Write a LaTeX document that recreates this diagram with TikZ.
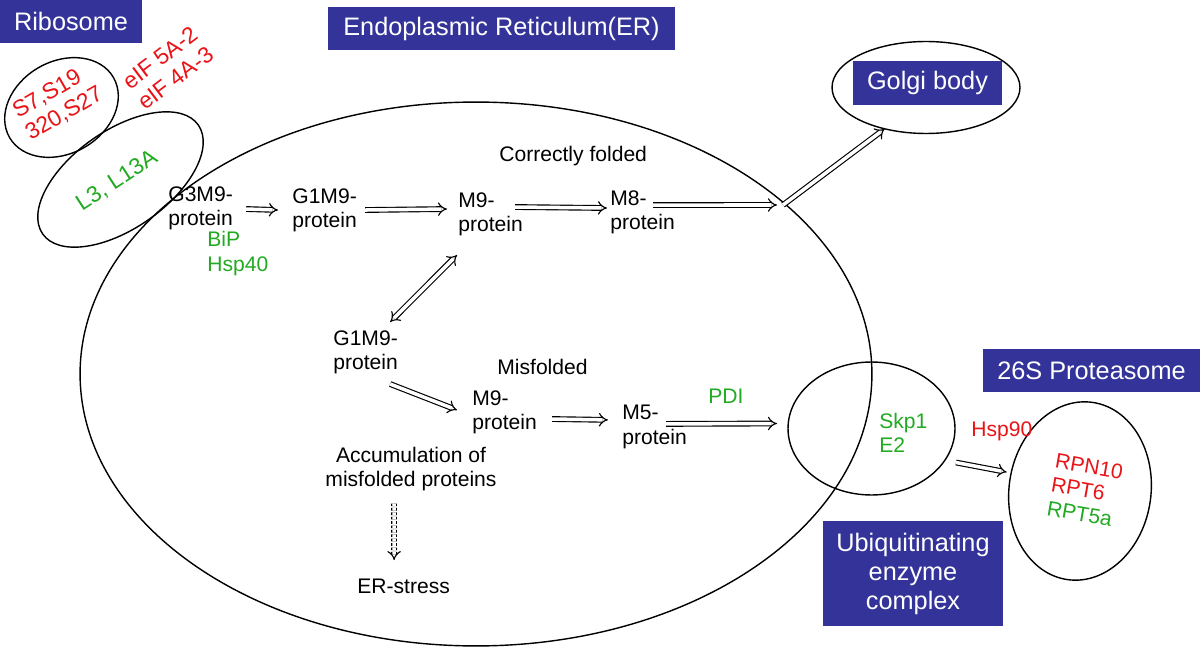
\documentclass[tikz,border=0pt]{standalone}
\usepackage{fontspec}
\setmainfont{Liberation Sans}
\usepackage{xcolor}
\usetikzlibrary{arrows.meta,shapes.geometric}
\definecolor{erblue}{RGB}{51,51,153}
\definecolor{protred}{RGB}{232,20,24}
\definecolor{protgreen}{RGB}{34,170,34}
\tikzset{
  lbl/.style={font=\fontsize{12}{13.8}\selectfont, inner sep=0pt, align=left},
  rlbl/.style={font=\fontsize{13}{14.5}\selectfont, inner sep=0pt, align=left},
  box/.style={fill=erblue, text=white, font=\fontsize{14.4}{16.5}\selectfont, inner sep=0pt, align=center},
  cell/.style={ellipse, draw, line width=0.8pt, inner sep=0pt, outer sep=0pt},
  flow/.style={double, double distance=2pt, line width=0.65pt, -{Implies}},
}

\begin{document}
\begin{tikzpicture}[x=0.02cm, y=-0.02cm]
                \fill[white] (0,0) rectangle (1200,648);
                \useasboundingbox (0,0) rectangle (1200,648);
                \node[cell, minimum width=15.84cm, minimum height=10.88cm] (er) at (476,374) {};
                \node[cell, rotate=30, minimum width=2.4cm, minimum height=1.84cm] (rsmall) at (61.5,107.5) {};
                \node[cell, rotate=35, minimum width=3.8cm, minimum height=1.96cm] (rlarge) at (120.5,179.5) {};
                \node[cell, minimum width=3.76cm, minimum height=1.84cm] (golgi) at (926,87.5) {};
                \node[cell, minimum width=3.34cm, minimum height=2.66cm] (ubiq) at (871.5,428.5) {};
                \node[cell, rotate=-8, minimum width=2.84cm, minimum height=3.58cm] (prot) at (1080,491) {};
                \node[box, minimum width=2.84cm, minimum height=0.86cm] (ribolabel) at (71,21.5) {Ribosome};
                \node[box, minimum width=6.94cm, minimum height=0.86cm] (erlabel) at (501.5,29) {Endoplasmic Reticulum(ER)};
                \node[box, minimum width=2.98cm, minimum height=0.88cm] (golgilabel) at (927.5,83) {Golgi body};
                \node[box, minimum width=4.34cm, minimum height=0.86cm] (protlabel) at (1091.5,370.5) {26S Proteasome};
                \node[box, minimum width=3.6cm, minimum height=2.1cm] (ubiqlabel) at (913,573.5) {Ubiquitinating\\enzyme\\complex};
                \node[rlbl, rotate=30, text=protred] (rps) at (58,103) {S7,S19\\320,S27};
                \node[rlbl, rotate=37, text=protred] (eif) at (168,68) {eIF 5A-2\\eIF 4A-3};
                \node[rlbl, rotate=33, text=protgreen] (rpl) at (117,181) {L3, L13A};
                \node[lbl, anchor=north west] (g3m9) at (168,186) {G3M9-\\protein};
                \node[lbl, anchor=base west, text=protgreen] (bip) at (207,247) {BiP};
                \node[lbl, anchor=base west, text=protgreen] (hsp40) at (207,272) {Hsp40};
                \node[lbl, anchor=north west] (g1m9) at (292,188) {G1M9-\\protein};
                \node[lbl, anchor=base west] (correct) at (499,162) {Correctly folded};
                \node[lbl, anchor=north west] (m9) at (458,192) {M9-\\protein};
                \node[lbl, anchor=north west] (m8) at (610,190) {M8-\\protein};
                \node[lbl, anchor=north west] (g1m9lo) at (333,330) {G1M9-\\protein};
                \node[lbl, anchor=base west] (misfold) at (497,375) {Misfolded};
                \node[lbl, anchor=north west] (m9lo) at (472,390) {M9-\\protein};
                \node[lbl, anchor=north west] (m5) at (622,405) {M5-\\protein};
                \node[lbl, anchor=base west, text=protgreen] (pdi) at (708,403) {PDI};
                \node[lbl, anchor=north, align=center] (accum) at (411,447) {Accumulation of\\misfolded proteins};
                \node[lbl, anchor=base west] (erstress) at (357,593) {ER-stress};
                \node[lbl, anchor=north west, text=protgreen] (skp) at (879,413) {Skp1\\E2};
                \node[lbl, anchor=base west, text=protred] (hsp90) at (971,437) {Hsp90};
                \node[lbl, rotate=-10] (rpn) at (1085,490) {\textcolor{protred}{RPN10}\\\textcolor{protred}{RPT6}\\\textcolor{protgreen}{RPT5a}};
                \coordinate (erexit) at (783,205);
                \draw[flow] ([shift={(13,1)}]g3m9.east) -- ([shift={(-14,0)}]g1m9.west);
                \draw[flow] ([shift={(8,0)}]g1m9.east) -- ([shift={(-11,-5)}]m9.west);
                \draw[flow] ([shift={(-8,-7)}]m9.east) -- ([shift={(-3,-4)}]m8.west);
                \draw[flow] ([shift={(-22,-7)}]m8.east) -- ([shift={(-6,0)}]erexit);
                \draw[flow] (erexit) -- (golgi.225);
                \draw[flow, {Implies}-{Implies}] ([shift={(-8,-8)}]g1m9lo.north east) -- ([shift={(-1,19)}]m9.south west);
                \draw[flow] ([shift={(-8,10)}]g1m9lo.south east) -- ([shift={(-15,-2)}]m9lo.west);
                \draw[flow] ([shift={(15,7)}]m9lo.east) -- ([shift={(-14,-7)}]m5.west);
                \draw[flow] ([shift={(-21,-3)}]m5.east) -- ([shift={(-11,-5)}]ubiq.west);
                \draw[flow] ([shift={(1,34)}]ubiq.east) -- ([shift={(-3,-9)}]prot.west);
                \draw[flow, dash pattern=on 1.5pt off 1pt] ([shift={(-17,12)}]accum.south) -- ([shift={(-9.5,-18)}]erstress.north);
            \end{tikzpicture}
\end{document}
